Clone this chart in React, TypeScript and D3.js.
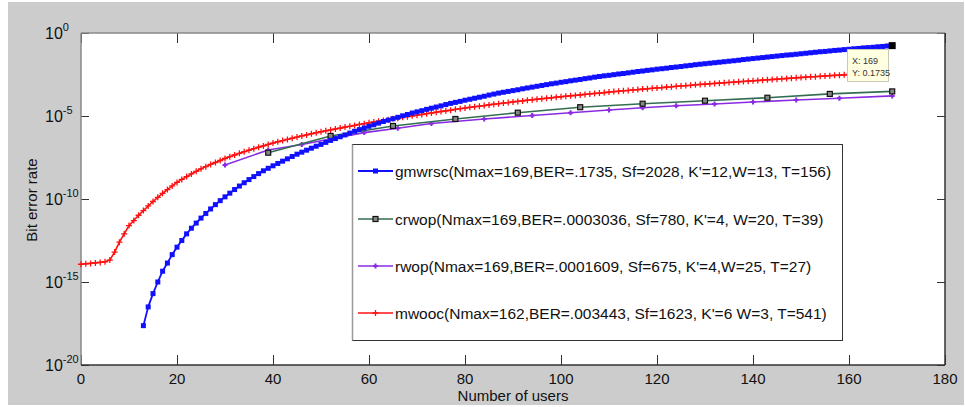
import { useRef, useEffect } from "react";
import * as d3 from "d3";

// ---- data (BER given as log10 exponents) ----
const xTicks = [0, 20, 40, 60, 80, 100, 120, 140, 160, 180];
const yTickExps = [0, -5, -10, -15, -20];

// gmwrsc: one point per user, users 13..169
const gmwrscFirstUser = 13;
const gmwrscLog = [
	-17.63, -16.5, -15.7, -15.0, -14.35, -13.86, -13.35, -12.9, -12.5, -12.1,
	-11.76, -11.45, -11.15, -10.87, -10.6, -10.34, -10.1, -9.87, -9.65, -9.43,
	-9.22, -9.02, -8.83, -8.65, -8.47, -8.3, -8.15, -8.0, -7.86, -7.72,
	-7.58, -7.44, -7.3, -7.18, -7.06, -6.94, -6.82, -6.71, -6.59, -6.47,
	-6.36, -6.25, -6.14, -6.03, -5.92, -5.82, -5.72, -5.62, -5.53, -5.43,
	-5.33, -5.25, -5.16, -5.08, -4.99, -4.91, -4.82, -4.75, -4.68, -4.6,
	-4.53, -4.46, -4.39, -4.31, -4.24, -4.18, -4.12, -4.05, -3.99, -3.93,
	-3.87, -3.81, -3.74, -3.68, -3.62, -3.57, -3.52, -3.47, -3.42, -3.36,
	-3.31, -3.26, -3.21, -3.16, -3.11, -3.06, -3.02, -2.97, -2.93, -2.88,
	-2.84, -2.8, -2.75, -2.71, -2.66, -2.62, -2.58, -2.55, -2.51, -2.47,
	-2.44, -2.4, -2.36, -2.32, -2.29, -2.25, -2.22, -2.18, -2.15, -2.12,
	-2.08, -2.05, -2.02, -1.98, -1.95, -1.91, -1.88, -1.85, -1.82, -1.79,
	-1.76, -1.73, -1.7, -1.67, -1.64, -1.6, -1.57, -1.54, -1.51, -1.48,
	-1.45, -1.42, -1.39, -1.36, -1.33, -1.31, -1.28, -1.25, -1.22, -1.19,
	-1.16, -1.13, -1.11, -1.08, -1.05, -1.03, -1.0, -0.98, -0.95, -0.93,
	-0.9, -0.88, -0.86, -0.83, -0.81, -0.78, -0.761,
];

// mwooc: one point per user, users 0..162
const mwoocFirstUser = 0;
const mwoocLog = [
	-13.93, -13.9, -13.88, -13.85, -13.82, -13.78, -13.68, -13.2, -12.6, -12.1,
	-11.6, -11.3, -10.98, -10.7, -10.42, -10.15, -9.9, -9.66, -9.43, -9.21,
	-9.0, -8.82, -8.65, -8.49, -8.33, -8.18, -8.05, -7.92, -7.8, -7.68,
	-7.56, -7.45, -7.35, -7.25, -7.15, -7.06, -6.97, -6.88, -6.8, -6.71,
	-6.63, -6.55, -6.48, -6.41, -6.34, -6.27, -6.2, -6.14, -6.07, -6.01,
	-5.95, -5.89, -5.84, -5.78, -5.73, -5.67, -5.62, -5.57, -5.51, -5.46,
	-5.41, -5.36, -5.31, -5.27, -5.22, -5.17, -5.13, -5.08, -5.04, -4.99,
	-4.95, -4.91, -4.86, -4.82, -4.77, -4.73, -4.69, -4.65, -4.6, -4.56,
	-4.52, -4.48, -4.44, -4.41, -4.37, -4.33, -4.29, -4.26, -4.22, -4.19,
	-4.15, -4.12, -4.09, -4.05, -4.02, -3.99, -3.96, -3.93, -3.9, -3.87,
	-3.84, -3.81, -3.78, -3.76, -3.73, -3.7, -3.67, -3.64, -3.62, -3.59,
	-3.56, -3.53, -3.51, -3.48, -3.46, -3.43, -3.41, -3.38, -3.36, -3.33,
	-3.31, -3.29, -3.26, -3.24, -3.21, -3.19, -3.17, -3.15, -3.12, -3.1,
	-3.08, -3.06, -3.04, -3.02, -3.0, -2.98, -2.96, -2.94, -2.92, -2.9,
	-2.88, -2.86, -2.84, -2.82, -2.8, -2.78, -2.76, -2.74, -2.72, -2.7,
	-2.68, -2.66, -2.64, -2.63, -2.61, -2.59, -2.57, -2.55, -2.54, -2.52,
	-2.5, -2.48, -2.46,
];

const crwopUsers = [39, 52, 65, 78, 91, 104, 117, 130, 143, 156, 169];
const crwopLog = [-7.21, -6.2, -5.6, -5.18, -4.8, -4.47, -4.26, -4.08, -3.9, -3.67, -3.518];

const rwopUsers = [30, 39, 46, 53, 59, 66, 73, 84, 94, 102, 110, 117, 124, 132, 140, 149, 158, 169];
const rwopLog = [
	-7.95, -7.05, -6.72, -6.32, -6.0, -5.74, -5.45, -5.18, -4.97, -4.8, -4.64, -4.5, -4.38, -4.28, -4.16,
	-4.04, -3.93, -3.79,
];

const legendLabels = [
	"gmwrsc(Nmax=169,BER=.1735, Sf=2028, K'=12,W=13, T=156)",
	"crwop(Nmax=169,BER=.0003036, Sf=780, K'=4, W=20, T=39)",
	"rwop(Nmax=169,BER=.0001609, Sf=675, K'=4,W=25, T=27)",
	"mwooc(Nmax=162,BER=.003443, Sf=1623, K'=6 W=3, T=541)",
];

const tipX = 169;
const tipY = 0.1735;

const FONT = "'Liberation Sans', Arial, sans-serif";

export default function App() {
	const ref = useRef<HTMLDivElement>(null);

	useEffect(() => {
		const width = 965;
		const height = 407;
		const plot = { left: 81, right: 945, top: 33, bottom: 365 };

		d3.select(ref.current).selectAll("*").remove();

		const svg = d3
			.select(ref.current)
			.append("svg")
			.attr("width", width)
			.attr("height", height)
			.style("display", "block")
			.style("font-family", FONT);

		svg.append("rect").attr("width", width).attr("height", height).attr("fill", "#fff");
		svg.append("rect").attr("x", 8).attr("y", 2).attr("width", 956).attr("height", 403).attr("fill", "#cccccc");

		// ---- Scales ----
		const x = d3.scaleLinear().domain([0, 180]).range([plot.left, plot.right]);
		const y = d3.scaleLog().domain([1e-20, 1]).range([plot.bottom, plot.top]);

		svg.append("rect")
			.attr("x", plot.left)
			.attr("y", plot.top)
			.attr("width", plot.right - plot.left)
			.attr("height", plot.bottom - plot.top)
			.attr("fill", "#fff");

		// ---- Ticks ----
		const ticks = svg.append("g").attr("stroke", "#333").attr("stroke-width", 1);
		xTicks.forEach((t) => {
			const px = Math.round(x(t)) + 0.5;
			ticks.append("line").attr("x1", px).attr("x2", px).attr("y1", plot.bottom).attr("y2", plot.bottom - 10);
			ticks.append("line").attr("x1", px).attr("x2", px).attr("y1", plot.top).attr("y2", plot.top + 10);
		});
		yTickExps.forEach((e) => {
			const py = Math.round(y(Math.pow(10, e))) + 0.5;
			ticks.append("line").attr("x1", plot.left).attr("x2", plot.left + 8).attr("y1", py).attr("y2", py);
			ticks.append("line").attr("x1", plot.right).attr("x2", plot.right - 8).attr("y1", py).attr("y2", py);
		});

		// ---- Frame ----
		svg.append("line").attr("x1", plot.left).attr("x2", plot.right).attr("y1", plot.top).attr("y2", plot.top)
			.attr("stroke", "#8a8a8a").attr("stroke-width", 1.5);
		svg.append("line").attr("x1", plot.left).attr("x2", plot.left).attr("y1", plot.top).attr("y2", plot.bottom)
			.attr("stroke", "#8a8a8a").attr("stroke-width", 1.5);
		svg.append("line").attr("x1", plot.left).attr("x2", plot.right).attr("y1", plot.bottom).attr("y2", plot.bottom)
			.attr("stroke", "#333").attr("stroke-width", 1.5);
		svg.append("line").attr("x1", plot.right).attr("x2", plot.right).attr("y1", plot.top).attr("y2", plot.bottom)
			.attr("stroke", "#333").attr("stroke-width", 1.5);

		// ---- Tick labels ----
		xTicks.forEach((t) => {
			svg.append("text")
				.attr("x", x(t))
				.attr("y", 384)
				.attr("text-anchor", "middle")
				.attr("font-size", 15)
				.attr("fill", "#111")
				.text(t);
		});
		yTickExps.forEach((e) => {
			const py = y(Math.pow(10, e));
			const lbl = svg.append("text").attr("x", 45).attr("y", py + 6).attr("font-size", 16).attr("fill", "#111");
			lbl.append("tspan").text("10");
			lbl.append("tspan").attr("dy", -8).attr("font-size", 11).text(e);
		});

		// ---- Axis labels ----
		svg.append("text")
			.attr("x", plot.left + (plot.right - plot.left) / 2)
			.attr("y", 401)
			.attr("text-anchor", "middle")
			.attr("font-size", 15)
			.attr("fill", "#111")
			.text("Number of users");

		svg.append("text")
			.attr("transform", "rotate(-90)")
			.attr("x", -200)
			.attr("y", 37)
			.attr("text-anchor", "middle")
			.attr("font-size", 15)
			.attr("fill", "#111")
			.text("Bit error rate");

		// ---- Series ----
		type Pt = [number, number];
		const gmwrsc: Pt[] = gmwrscLog.map((v, i) => [gmwrscFirstUser + i, Math.pow(10, v)]);
		const mwooc: Pt[] = mwoocLog.map((v, i) => [mwoocFirstUser + i, Math.pow(10, v)]);
		const crwop: Pt[] = crwopUsers.map((u, i) => [u, Math.pow(10, crwopLog[i])]);
		const rwop: Pt[] = rwopUsers.map((u, i) => [u, Math.pow(10, rwopLog[i])]);

		const line = d3
			.line<Pt>()
			.x((d) => x(d[0]))
			.y((d) => y(d[1]));

		const drawMarker = (g: any, px: number, py: number, kind: string, color: string) => {
			if (kind === "square") {
				g.append("rect").attr("x", px - 2.5).attr("y", py - 2.5).attr("width", 5).attr("height", 5).attr("fill", color);
			} else if (kind === "hollow") {
				g.append("rect").attr("x", px - 2.5).attr("y", py - 2.5).attr("width", 5).attr("height", 5)
					.attr("fill", "#888").attr("stroke", "#111").attr("stroke-width", 1.2);
			} else if (kind === "plus") {
				g.append("path").attr("d", `M${px - 3},${py}H${px + 3}M${px},${py - 3}V${py + 3}`)
					.attr("stroke", color).attr("stroke-width", 1.3);
			} else if (kind === "dot") {
				g.append("path").attr("d", `M${px - 2.5},${py}H${px + 2.5}M${px},${py - 2.5}V${py + 2.5}`)
					.attr("stroke", color).attr("stroke-width", 2);
			}
		};

		const series = [
			{ pts: mwooc, color: "#ff1010", width: 1.6, marker: "plus", mcolor: "#ff1010" },
			{ pts: rwop, color: "#8a2be2", width: 1.6, marker: "dot", mcolor: "#8a2be2" },
			{ pts: crwop, color: "#336e50", width: 1.6, marker: "hollow", mcolor: "#111" },
			{ pts: gmwrsc, color: "#1010ff", width: 1.8, marker: "square", mcolor: "#1010ff" },
		];

		series.forEach((s) => {
			svg.append("path")
				.attr("d", line(s.pts))
				.attr("fill", "none")
				.attr("stroke", s.color)
				.attr("stroke-width", s.width)
				.attr("stroke-linejoin", "round");
			const mg = svg.append("g");
			s.pts.forEach((d) => drawMarker(mg, x(d[0]), y(d[1]), s.marker, s.mcolor));
		});

		// ---- Legend ----
		const lg = svg.append("g");
		lg.append("rect")
			.attr("x", 352.5)
			.attr("y", 144.5)
			.attr("width", 490)
			.attr("height", 196)
			.attr("fill", "#fff")
			.attr("stroke", "#333")
			.attr("stroke-width", 1);
		lg.append("line").attr("x1", 352.5).attr("x2", 352.5).attr("y1", 144.5).attr("y2", 340.5)
			.attr("stroke", "#999").attr("stroke-width", 1.5);
		const legendSeries = [series[3], series[2], series[1], series[0]];
		const legendY = [171, 219, 266, 313];
		legendSeries.forEach((s, i) => {
			const ly = legendY[i];
			lg.append("line").attr("x1", 358).attr("x2", 393).attr("y1", ly).attr("y2", ly)
				.attr("stroke", s.color).attr("stroke-width", s.width);
			drawMarker(lg, 375.5, ly, s.marker, s.mcolor);
			lg.append("text")
				.attr("x", 395)
				.attr("y", ly + 5.5)
				.attr("font-size", 15.5)
				.attr("fill", "#111")
				.text(legendLabels[i]);
		});

		// ---- Data tip ----
		const tx = x(tipX);
		const ty = y(tipY);
		svg.append("rect").attr("x", tx - 3.5).attr("y", ty - 3.5).attr("width", 7).attr("height", 7).attr("fill", "#000");
		const tip = svg.append("g");
		tip.append("rect")
			.attr("x", 847.5)
			.attr("y", 49.5)
			.attr("width", 41)
			.attr("height", 32)
			.attr("fill", "#ffffe1")
			.attr("stroke", "#c8c8b4");
		tip.append("text").attr("x", 852).attr("y", 64).attr("font-size", 9).attr("fill", "#333").text(`X: ${tipX}`);
		tip.append("text").attr("x", 852).attr("y", 76).attr("font-size", 9).attr("fill", "#333").text(`Y: ${tipY}`);
	}, []);

	return <div ref={ref} style={{ position: "absolute", left: 0, top: 0 }} />;
}
